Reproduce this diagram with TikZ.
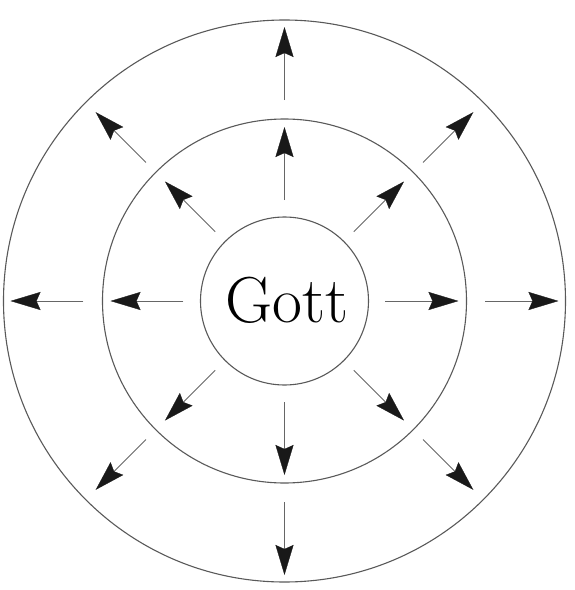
\documentclass[tikz,border=0pt]{standalone}
\usetikzlibrary{arrows.meta}
\begin{document}
\begin{tikzpicture}[x=1pt,y=1pt,
  ring/.style={circle,draw=black!65,line width=1.1pt,inner sep=0pt},
  ray/.style={draw=black!60,line width=1pt,-{Stealth[length=30pt,width=18pt,inset=4pt,color=black!90,fill=black!90,line width=0.3pt]}}]
\useasboundingbox (-284.5,-289) rectangle (289.5,301);
\node[ring,minimum size=562pt] (outer) at (0,0) {};
\node[ring,minimum size=364pt] (middle) at (0,0) {};
\node[ring,minimum size=168pt] (gott) at (0,0) {};
\node (label) at (2.5,1) {\fontsize{65}{72}\selectfont Gott};
\foreach \a in {0,90,180,270}{
  \coordinate (ia\a) at (\a:101);
  \coordinate (ib\a) at (\a:174);
  \coordinate (oa\a) at (\a:201);
  \coordinate (ob\a) at (\a:274);
  \draw[ray] (ia\a) -- (ib\a);
  \draw[ray] (oa\a) -- (ob\a);
}
\foreach \a in {45,135,225,315}{
  \coordinate (ia\a) at (\a:98);
  \coordinate (ib\a) at (\a:169);
  \coordinate (oa\a) at (\a:196);
  \coordinate (ob\a) at (\a:267);
  \draw[ray] (ia\a) -- (ib\a);
  \draw[ray] (oa\a) -- (ob\a);
}
\end{tikzpicture}
\end{document}
